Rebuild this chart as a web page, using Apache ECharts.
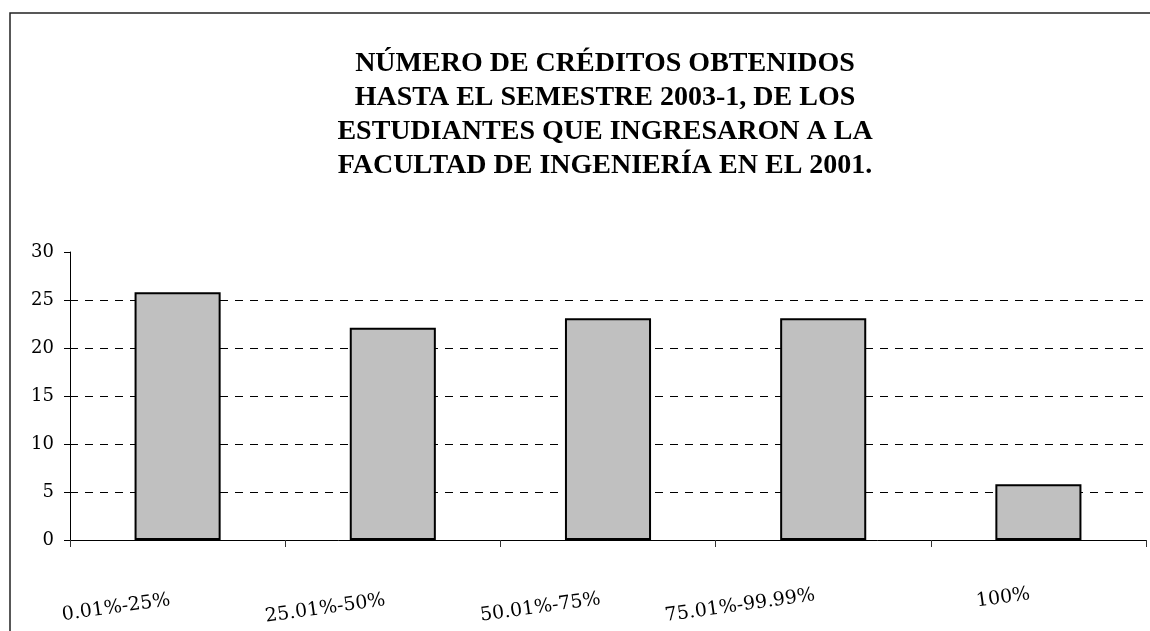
<!DOCTYPE html>
<html>
<head>
<meta charset="utf-8">
<script src="https://cdn.jsdelivr.net/npm/echarts@6/dist/echarts.min.js"></script>
<style>
html,body{margin:0;padding:0;background:#fff;}
#chart{width:1150px;height:631px;}
</style>
</head>
<body>
<div id="chart"></div>
<script>
// ---- data ----
const titleLines = [
  'NÚMERO DE CRÉDITOS OBTENIDOS',
  'HASTA EL SEMESTRE 2003-1, DE LOS',
  'ESTUDIANTES QUE INGRESARON A LA',
  'FACULTAD DE INGENIERÍA EN EL 2001.'
];
const categories = ['0.01%-25%', '25.01%-50%', '50.01%-75%', '75.01%-99.99%', '100%'];
const values = [25.8, 22.1, 23.1, 23.1, 5.8];
const yTicks = { min: 0, max: 30, interval: 5 };

// ---- layout (not data) ----
const labelShift = [6, 6, 4, -4, -6]; // + moves label down, - up (via padding)

const rich = {};
labelShift.forEach((s, i) => {
  rich['l' + i] = {
    fontFamily: 'DejaVu Serif',
    fontSize: 19,
    color: '#000',
    padding: s > 0 ? [s, 8, 0, 0] : [0, 8, -s, 0]
  };
});

const chart = echarts.init(document.getElementById('chart'), null, { renderer: 'canvas' });
chart.setOption({
  backgroundColor: '#fff',
  animation: false,
  title: {
    text: titleLines.join('\n'),
    left: 600,
    top: 42,
    textAlign: 'center',
    textStyle: {
      fontFamily: 'Liberation Serif',
      fontWeight: 'bold',
      fontSize: 28,
      lineHeight: 34,
      color: '#000'
    }
  },
  graphic: [{
    type: 'rect',
    silent: true,
    shape: { x: 10, y: 13, width: 1170, height: 660 },
    style: { fill: 'none', stroke: '#222', lineWidth: 1.5 },
    z: -1
  }],
  grid: { left: 70, right: 4, top: 252, bottom: 91, containLabel: false },
  xAxis: {
    type: 'category',
    data: categories,
    boundaryGap: true,
    axisLine: { show: true, lineStyle: { color: '#000', width: 1 } },
    axisTick: { show: true, inside: false, length: 7, alignWithLabel: false, lineStyle: { color: '#333' } },
    axisLabel: {
      interval: 0,
      rotate: 8,
      margin: 56,
      formatter: (v, i) => '{l' + i + '|' + v + '}',
      rich: rich
    },
    splitLine: { show: false }
  },
  yAxis: {
    type: 'value',
    min: yTicks.min,
    max: yTicks.max,
    interval: yTicks.interval,
    axisLine: { show: true, lineStyle: { color: '#000', width: 1 } },
    axisTick: { show: true, length: 6, lineStyle: { color: '#000' } },
    axisLabel: {
      margin: 16,
      fontFamily: 'DejaVu Serif',
      fontSize: 18,
      color: '#000'
    },
    splitLine: {
      show: true,
      showMinLine: false,
      showMaxLine: false,
      lineStyle: { color: '#000', type: [8, 7], width: 1 }
    }
  },
  series: [{
    type: 'bar',
    data: values,
    barWidth: '40%',
    itemStyle: { color: '#c0c0c0', borderColor: '#000', borderWidth: 2 },
    z: 3
  }]
});
</script>
</body>
</html>
